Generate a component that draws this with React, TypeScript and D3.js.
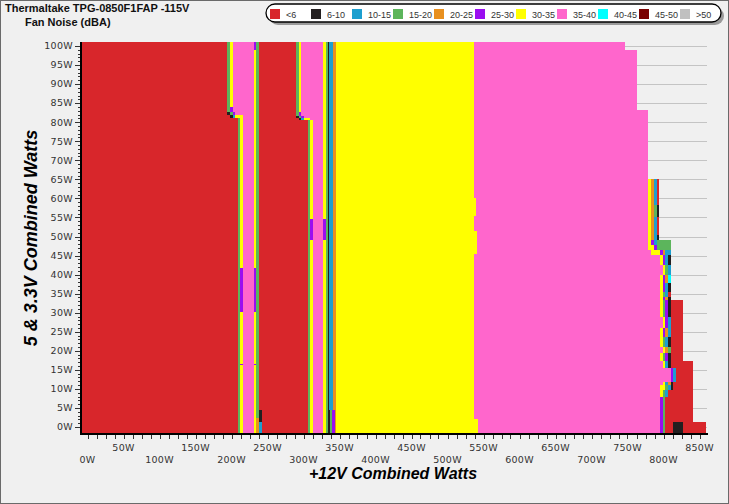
import React from "react";
import * as d3 from "d3";

// ---------- text ----------
const chartTitle = "Thermaltake TPG-0850F1FAP -115V";
const chartSubtitle = "Fan Noise (dBA)";
const xTitle = "+12V Combined Watts";
const yTitle = "5 & 3.3V Combined Watts";

// ---------- legend / bins ----------
const noiseBins = ["<6", "6-10", "10-15", "15-20", "20-25", "25-30", "30-35", "35-40", "40-45", "45-50", ">50"];
const binColors = ["#d8262b", "#231f20", "#1d9fcf", "#5cb55c", "#e8901f", "#9a0ef0", "#ffff00", "#ff66cc", "#00ffff", "#7a0000", "#c0c0c0"];

// ---------- ticks ----------
const xTickValues = d3.range(0, 851, 50);
const xMinorTickValues = d3.range(0, 850.1, 12.5);
const yTickValues = d3.range(0, 101, 5);
const yMinorTickValues = d3.range(0, 101, 1);

// bin indices
const R = 0, K = 1, B = 2, G = 3, O = 4, P = 5, Y = 6, M = 7, C = 8;

// data extents (watts)
const lo = -1.6;
const hi = 101.05;

// Row: [5V from, 5V to, +12V start, runs [+12V end, bin][]]
type Run = [number, number];
type Row = [number, number, number, Run[]];

const baseRows: Row[] = [
  [lo, hi, -7.6, [[306.3, R]]],
  [lo, hi, 345.1, [[536.8, Y]]],
];

const band1Rows: Row[] = [
  [lo, 81.0, 208.7, [[211.7, G], [216.3, Y], [231.3, M]]],
  [84.0, hi, 194.4, [[197.5, G], [201.4, Y], [231.3, M]]],
  [82.7, 84.0, 194.4, [[197.5, G], [201.4, P], [231.3, M]]],
  [81.8, 82.7, 194.4, [[197.5, K], [201.4, G], [204.9, P], [231.3, M]]],
  [81.0, 81.8, 197.5, [[201.4, K], [204.9, B], [215.6, Y], [231.3, M]]],
  [lo, hi, 231.3, [[234.7, Y], [238.6, G]]],
  [30.2, 41.7, 211.7, [[216.3, P]]],
  [30.2, 41.7, 231.3, [[234.7, P]]],
  [16.3, 16.6, 211.7, [[216.3, P]]],
  [16.3, 16.6, 231.3, [[234.7, P]]],
  [99.0, hi, 231.3, [[234.7, P]]],
  [lo, 2.3, 234.7, [[238.6, O]]],
  [1.4, 4.5, 238.6, [[242.8, K]]],
  [lo, 1.4, 238.6, [[242.8, B]]],
];

const band2Rows: Row[] = [
  [lo, 80.6, 306.3, [[309.7, G], [313.6, Y], [327.1, M]]],
  [82.8, hi, 289.6, [[293.3, G], [297.0, Y], [327.1, M]]],
  [81.6, 82.8, 289.6, [[293.3, G], [297.0, P], [327.1, M]]],
  [81.1, 81.6, 289.6, [[293.3, K], [297.0, G], [300.7, P], [327.1, M]]],
  [80.6, 81.1, 293.3, [[297.0, K], [300.7, B], [309.7, Y], [327.1, M]]],
  [lo, hi, 327.1, [[330.8, Y], [334.4, G], [336.0, K], [341.5, B], [345.1, O]]],
  [49.0, 54.6, 309.7, [[313.6, P]]],
  [49.0, 54.6, 327.1, [[330.8, P]]],
  [lo, 4.5, 334.4, [[337.2, K], [340.0, G], [344.0, P]]],
];

const rightRows: Row[] = [
  [98.9, hi, 536.8, [[746.5, M]]],
  [83.2, 98.9, 536.8, [[762.8, M]]],
  [65.1, 83.2, 536.8, [[778.5, M]]],
  [49.1, 65.1, 536.8, [[778.5, M], [782.6, Y], [786.8, O], [790.6, B], [794.2, R]]],
  [55.2, 58.3, 786.8, [[790.6, G], [794.2, K]]],
  [49.1, 50.4, 790.6, [[794.2, K]]],
  [47.8, 49.1, 536.8, [[778.5, M], [782.6, Y], [786.8, P], [790.6, B], [810.0, G]]],
  [46.5, 47.8, 536.8, [[778.5, M], [786.8, Y], [790.6, P], [810.0, G]]],
  [45.1, 46.5, 536.8, [[782.6, M], [795.1, Y], [798.9, P], [802.1, O], [810.0, B]]],
  [42.4, 45.1, 536.8, [[795.1, M], [798.9, Y], [802.1, P], [806.3, B], [810.0, K]]],
  [40.0, 42.4, 536.8, [[798.9, M], [802.1, Y], [806.3, G], [810.0, B]]],
  [37.8, 40.0, 536.8, [[795.1, M], [798.9, Y], [802.1, P], [806.3, O], [810.0, C]]],
  [35.4, 37.8, 536.8, [[795.1, M], [798.9, Y], [802.1, P], [806.3, B], [810.0, K]]],
  [34.2, 35.4, 536.8, [[795.1, M], [798.9, Y], [802.1, G], [806.3, B], [810.0, R]]],
  [33.3, 34.2, 536.8, [[795.1, M], [798.9, Y], [802.1, P], [806.3, O], [810.0, K]]],
  [29.0, 33.3, 536.8, [[795.1, M], [798.9, Y], [802.1, G], [806.3, P], [810.0, K], [826.7, R]]],
  [26.0, 29.0, 536.8, [[798.9, M], [802.1, Y], [806.3, P], [810.0, B], [826.7, R]]],
  [23.5, 26.0, 536.8, [[795.1, M], [798.9, Y], [802.1, P], [806.3, O], [810.0, B], [826.7, R]]],
  [21.0, 23.5, 536.8, [[795.1, M], [798.9, Y], [802.1, G], [806.3, B], [810.0, K], [826.7, R]]],
  [19.5, 21.0, 536.8, [[798.9, M], [802.1, Y], [806.3, O], [810.0, G], [826.7, R]]],
  [17.3, 19.5, 536.8, [[795.1, M], [798.9, Y], [802.1, G], [806.3, P], [810.0, K], [826.7, R]]],
  [15.5, 17.3, 536.8, [[798.9, M], [802.1, Y], [806.3, B], [810.0, K], [841.4, R]]],
  [11.8, 15.5, 536.8, [[810.0, M], [813.6, P], [817.4, B], [841.4, R]]],
  [11.0, 11.8, 536.8, [[798.9, M], [802.1, Y], [806.3, B], [810.0, O], [813.6, K], [841.4, R]]],
  [9.7, 11.0, 536.8, [[795.1, M], [802.1, Y], [806.3, G], [810.0, B], [813.6, K], [841.4, R]]],
  [7.9, 9.7, 536.8, [[795.1, M], [798.9, Y], [802.1, G], [806.3, B], [841.4, R]]],
  [1.4, 7.9, 536.8, [[795.1, M], [798.9, P], [801.5, G], [841.4, R]]],
  [lo, 1.4, 536.8, [[795.1, M], [798.9, P], [801.5, G], [813.6, R], [826.7, K], [859.0, R]]],
];

const yellowEdgeRows: Row[] = [
  [55.5, 60.0, 536.8, [[539.5, Y]]],
  [45.5, 51.5, 536.8, [[541.0, Y]]],
  [lo, 2.0, 536.8, [[542.5, Y]]],
];

const allRows: Row[] = [...baseRows, ...band1Rows, ...band2Rows, ...rightRows, ...yellowEdgeRows];

// ---------- layout ----------
const W = 729;
const H = 504;
const xScale = d3.scaleLinear().domain([0, 850]).range([87.5, 699.5]);
const yScale = d3.scaleLinear().domain([0, 100]).range([427, 46]);

const plotLeft = 81;
const plotRight = 707;
const plotTop = 42;
const plotBottom = 433;

const fontSans = "'Liberation Sans', Arial, sans-serif";
const fontTick = "'DejaVu Sans', Verdana, sans-serif";

export default function App() {
  const rects: React.ReactNode[] = [];
  allRows.forEach((row, ri) => {
    const [y0, y1, xs, runs] = row;
    const top = Math.round(yScale(y1));
    const bot = Math.round(yScale(y0));
    let start = xs;
    runs.forEach(([end, bin], k) => {
      const left = Math.round(xScale(start));
      const right = Math.round(xScale(end));
      if (right > left && bot > top) {
        rects.push(
          <rect key={`${ri}-${k}`} x={left} y={top} width={right - left} height={bot - top} fill={binColors[bin]} />
        );
      }
      start = end;
    });
  });

  return (
    <svg
      width={W}
      height={H}
      viewBox={`0 0 ${W} ${H}`}
      style={{ position: "absolute", left: 0, top: 0, display: "block" }}
    >
      <rect x={0} y={0} width={W} height={H} fill="#f0f0f0" />
      <rect x={0.5} y={0.5} width={W - 1} height={H - 1} fill="none" stroke="#6a6a6a" />

      {/* title */}
      <text x={5} y={12} fontFamily={fontSans} fontWeight="bold" fontSize={11} fill="#111">{chartTitle}</text>
      <text x={25} y={26} fontFamily={fontSans} fontWeight="bold" fontSize={11} fill="#111">{chartSubtitle}</text>

      {/* legend */}
      <rect x={269} y={7} width={455} height={18} rx={9} ry={9} fill="#9a9a9a" />
      <rect x={266} y={4} width={455} height={18} rx={9} ry={9} fill="#ffffff" stroke="#000" strokeWidth={1.3} />
      {noiseBins.map((b, i) => (
        <g key={b}>
          <rect x={270 + 41 * i} y={9} width={10} height={10} fill={binColors[i]} />
          <text x={286 + 41 * i} y={17.5} fontFamily={fontSans} fontSize={9} fill="#333">{b}</text>
        </g>
      ))}

      {/* gridlines */}
      {yTickValues.map((v) => (
        <line key={`g${v}`} x1={plotLeft} x2={plotRight} y1={Math.round(yScale(v)) + 0.5} y2={Math.round(yScale(v)) + 0.5} stroke="#c4c4c4" strokeWidth={1} />
      ))}

      {/* heatmap */}
      <g shapeRendering="crispEdges">{rects}</g>

      {/* axes */}
      <rect x={plotLeft - 1} y={plotTop} width={2} height={plotBottom - plotTop + 2} fill="#000" />
      <rect x={plotLeft - 1} y={plotBottom} width={plotRight - plotLeft + 2} height={2} fill="#000" />

      {/* y ticks */}
      {yMinorTickValues.map((v) => (
        <line key={`ym${v}`} x1={78} x2={80} y1={Math.round(yScale(v)) + 0.5} y2={Math.round(yScale(v)) + 0.5} stroke="#333" />
      ))}
      {yTickValues.map((v) => (
        <g key={`yt${v}`}>
          <line x1={75} x2={80} y1={Math.round(yScale(v)) + 0.5} y2={Math.round(yScale(v)) + 0.5} stroke="#333" />
          <text x={73} y={yScale(v)} dy="0.35em" textAnchor="end" fontFamily={fontTick} fontSize={9.5} letterSpacing={0.3} fill="#333">{`${v}W`}</text>
        </g>
      ))}

      {/* x ticks */}
      {xMinorTickValues.map((v) => (
        <line key={`xm${v}`} x1={Math.round(xScale(v)) + 0.5} x2={Math.round(xScale(v)) + 0.5} y1={435} y2={439} stroke="#333" />
      ))}
      {xTickValues.map((v, i) => (
        <text key={`xt${v}`} x={xScale(v)} y={i % 2 === 1 ? 451 : 463} textAnchor="middle" fontFamily={fontTick} fontSize={9.5} letterSpacing={0.3} fill="#333">{`${v}W`}</text>
      ))}

      {/* axis titles */}
      <text x={393} y={479} textAnchor="middle" fontFamily={fontSans} fontWeight="bold" fontStyle="italic" fontSize={16} fill="#000">{xTitle}</text>
      <text transform="translate(37,238) rotate(-90)" textAnchor="middle" fontFamily={fontSans} fontWeight="bold" fontStyle="italic" fontSize={18} fill="#000">{yTitle}</text>
    </svg>
  );
}
